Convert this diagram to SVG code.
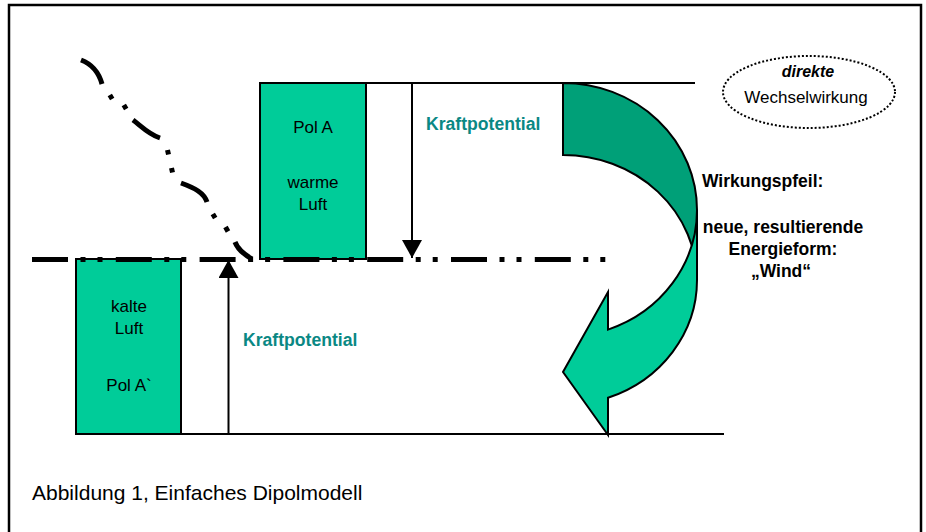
<svg xmlns="http://www.w3.org/2000/svg" width="926" height="532" viewBox="0 0 926 532">
<style>
.t{font-family:"Liberation Sans",Arial,sans-serif;fill:#000}
.box{fill:#00CC99;stroke:#000;stroke-width:2}
.ln{stroke:#000;stroke-width:2;fill:none}
.kp{font-family:"Liberation Sans",Arial,sans-serif;font-weight:bold;font-size:17.6px;fill:#0A8884}
.dd{stroke:#000;stroke-width:5;fill:none}
</style>
<defs>
<marker id="arr" viewBox="0 0 18 20" refX="18" refY="10" markerWidth="18" markerHeight="20" markerUnits="userSpaceOnUse" orient="auto">
<path d="M0,0 L18,10 L0,20 Z" fill="#000"/>
</marker>
</defs>
<rect width="926" height="532" fill="#fff"/>
<rect x="9" y="5" width="912" height="560" fill="none" stroke="#000" stroke-width="2.5"/>
<g id="lines">
<line class="ln" x1="260" y1="83" x2="695" y2="83"/>
<line class="ln" x1="76" y1="434" x2="724" y2="434"/>
</g>
<g id="polA">
<rect class="box" x="260" y="83" width="106" height="176"/>
<text class="t" font-size="17" text-anchor="middle" x="313" y="133">Pol A</text>
<text class="t" font-size="17" text-anchor="middle" x="313" y="188">warme</text>
<text class="t" font-size="17" text-anchor="middle" x="313" y="210">Luft</text>
</g>
<g id="polA2">
<rect class="box" x="76" y="259" width="105" height="175"/>
<text class="t" font-size="17" text-anchor="middle" x="129" y="312">kalte</text>
<text class="t" font-size="17" text-anchor="middle" x="129" y="334">Luft</text>
<text class="t" font-size="17" text-anchor="middle" x="129" y="391">Pol A`</text>
</g>
<g id="front">
<path class="dd" d="M81,60 Q97,66 102,84 M133,120 C140,125 148,134 160,138 M181,183 C195,188 204,193 207,202 M235,242 C238,250 245,255 252,259"/>
<path class="dd" d="M109.8,95 L112.2,99 M123.8,105 L126.2,109 M167.5,150 L168.5,154.5 M171.5,168 L172.5,172.5 M212.8,214 L215.2,218 M225.5,227 L228,231.5"/>
<line class="dd" x1="32" y1="259.5" x2="606" y2="259.5" stroke-dasharray="36 12.5 5 12 5 13.3"/>
</g>
<g id="connectors">
<line class="ln" x1="412" y1="83" x2="412" y2="258" marker-end="url(#arr)"/>
<line class="ln" x1="228.5" y1="434" x2="228.5" y2="260" marker-end="url(#arr)"/>
<text class="kp" x="426" y="130">Kraftpotential</text>
<text class="kp" x="243" y="346">Kraftpotential</text>
</g>
<g id="wirkungspfeil">
<path d="M563,83 A134,127 0 0 1 697,210 L697,280 A134,125 0 0 0 563,155 Z" fill="#00A078" stroke="#000" stroke-width="2"/>
<path d="M697,210 A134,127 0 0 1 608,329.6 L608,292 L563,372 L608,435 L608,397.8 A134,125 0 0 0 697,280 Z" fill="#00CC99" stroke="#000" stroke-width="2" stroke-linejoin="miter"/>
</g>
<g id="wechselwirkung">
<ellipse cx="809" cy="92" rx="86" ry="36" fill="none" stroke="#000" stroke-width="2" stroke-dasharray="2 2"/>
<text class="t" font-size="16" font-weight="bold" font-style="italic" text-anchor="middle" x="808" y="77">direkte</text>
<text class="t" font-size="17" text-anchor="middle" x="806" y="103">Wechselwirkung</text>
</g>
<g id="wind">
<text class="t" font-size="17.5" font-weight="bold" x="702" y="187">Wirkungspfeil:</text>
<text class="t" font-size="17.5" font-weight="bold" text-anchor="middle" x="783" y="233">neue, resultierende</text>
<text class="t" font-size="17.5" font-weight="bold" text-anchor="middle" x="783" y="255">Energieform:</text>
<text class="t" font-size="17.5" font-weight="bold" text-anchor="middle" x="781" y="277">„Wind“</text>
</g>
<g id="caption">
<text class="t" font-size="21" x="32" y="500">Abbildung 1, Einfaches Dipolmodell</text>
</g>
</svg>
